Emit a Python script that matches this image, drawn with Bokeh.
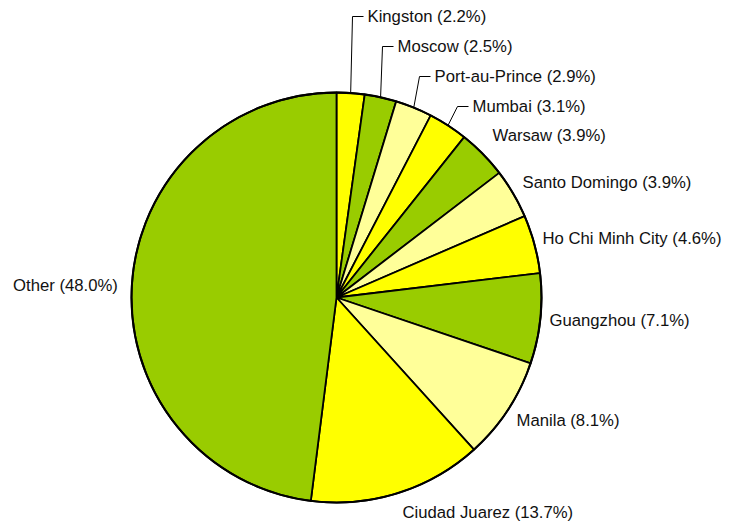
import math
from bokeh.plotting import figure
from bokeh.models import Range1d, ColumnDataSource
from bokeh.embed import file_html
from bokeh.resources import INLINE
from bokeh.core.properties import value

# ---- data ----
cities = ["Kingston", "Moscow", "Port-au-Prince", "Mumbai", "Warsaw", "Santo Domingo",
          "Ho Chi Minh City", "Guangzhou", "Manila", "Ciudad Juarez", "Other"]
shares = [2.2, 2.5, 2.9, 3.1, 3.9, 3.9, 4.6, 7.1, 8.1, 13.7, 48.0]
label_texts = ["Kingston (2.2%)", "Moscow (2.5%)", "Port-au-Prince (2.9%)", "Mumbai  (3.1%)",
               "Warsaw (3.9%)", "Santo Domingo  (3.9%)", "Ho Chi Minh City  (4.6%)",
               "Guangzhou  (7.1%)", "Manila  (8.1%)", "Ciudad Juarez  (13.7%)", "Other  (48.0%)"]

# ---- styles / layout ----
GREEN, YELLOW, LIGHT = "#99CC00", "#FFFF00", "#FFFF99"
colors = [YELLOW, GREEN, LIGHT, YELLOW, GREEN, LIGHT, YELLOW, GREEN, LIGHT, YELLOW, GREEN]
W, H = 731, 525
CX, CY, R = 336, 297, 205  # page pixel coordinates of pie centre, radius
# label anchors in page pixels (x, y centre, align)
label_layout = [(367, 16, "left"), (397, 46, "left"), (434, 76, "left"), (472, 106, "left"),
                (492, 135, "left"), (522, 182, "left"), (542, 238, "left"), (549, 320, "left"),
                (516, 420, "left"), (402, 512, "left"), (122, 285, "right")]
leader = [True, True, True, True, False, False, False, False, False, False, False]
FONT = "Liberation Sans"
FONT_SIZE = "16.7px"


def py(y):
    return H - y


p = figure(width=W, height=H, output_backend="svg", toolbar_location=None,
           x_range=Range1d(0, W), y_range=Range1d(0, H), min_border=0,
           outline_line_color=None, background_fill_color="white", border_fill_color="white")
p.axis.visible = False
p.xgrid.visible = False
p.ygrid.visible = False

total = sum(shares)
starts, ends, mids = [], [], []
cum = 0.0
for s in shares:
    a0 = math.pi / 2 - 2 * math.pi * cum / total
    cum += s
    a1 = math.pi / 2 - 2 * math.pi * cum / total
    starts.append(a0)
    ends.append(a1)
    mids.append((a0 + a1) / 2)

src = ColumnDataSource(dict(start=starts, end=ends, color=colors, city=cities))
p.wedge(x=CX, y=py(CY), radius=R, start_angle="start", end_angle="end", direction="clock",
        fill_color="color", line_color="black", line_width=1.8, source=src)
p.circle(x=CX, y=py(CY), radius=R, fill_color=None, line_color="black", line_width=2)

# leader lines
for i, has in enumerate(leader):
    if not has:
        continue
    ex = CX + R * math.cos(mids[i])
    ey = py(CY) + R * math.sin(mids[i])
    lx, ly, _ = label_layout[i]
    p.line([ex, lx - 15, lx - 4], [ey, py(ly), py(ly)], line_color="black", line_width=1)

# labels
for i, t in enumerate(label_texts):
    lx, ly, al = label_layout[i]
    p.text(x=[lx], y=[py(ly)], text=[t], text_align=al, text_baseline="middle",
           text_font=value(FONT), text_font_size=FONT_SIZE, text_color="#111111")

open("out.html", "w").write(file_html(p, INLINE))
